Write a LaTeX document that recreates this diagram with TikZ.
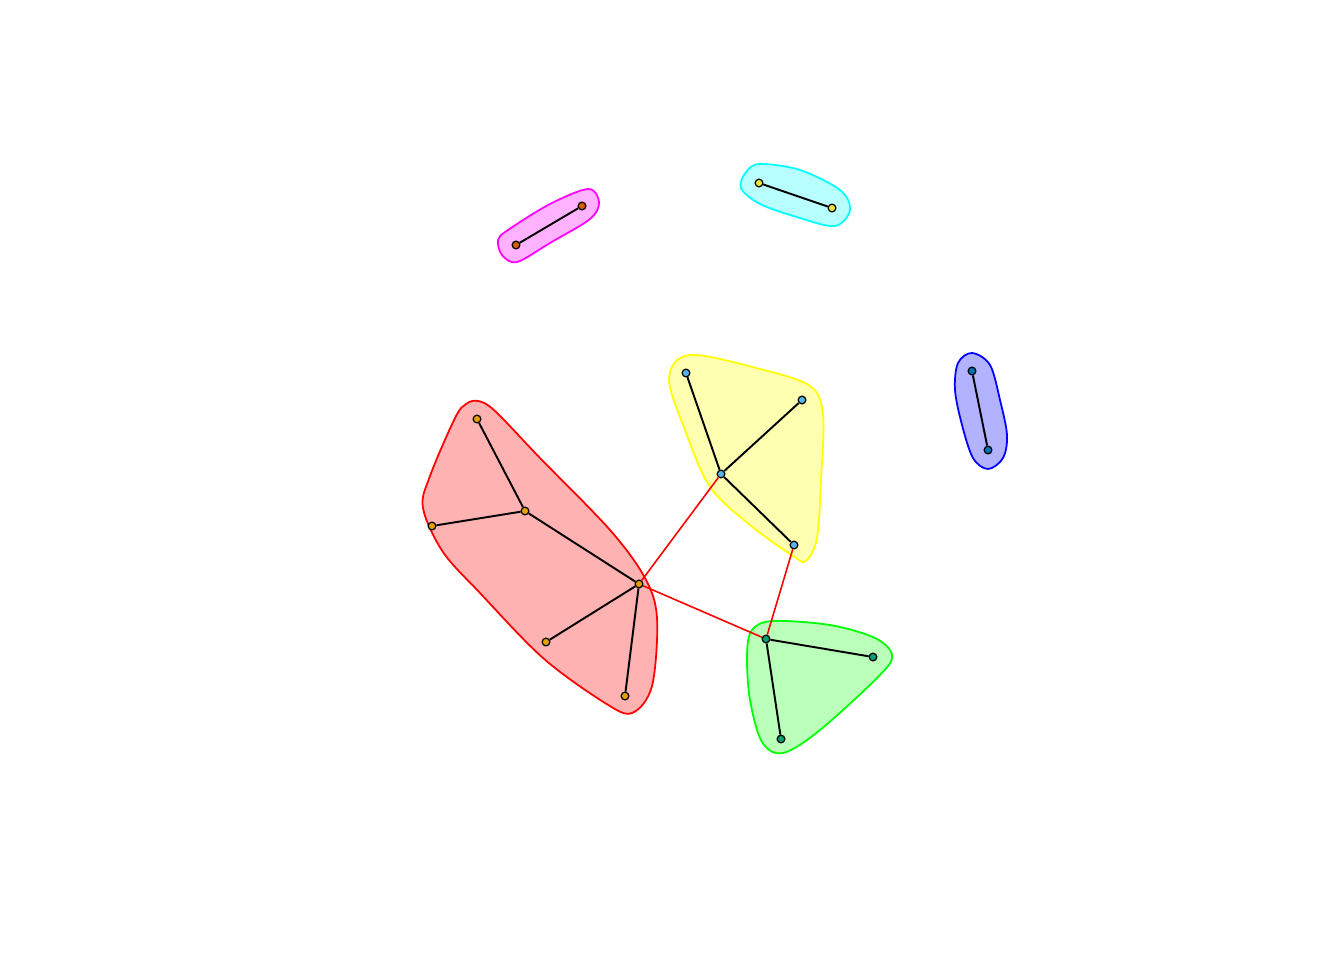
\documentclass[tikz,border=0pt]{standalone}
\usepackage{tikz}
\usetikzlibrary{positioning}
\definecolor{vorange}{HTML}{E69F00}
\definecolor{vsky}{HTML}{56B4E9}
\definecolor{vteal}{HTML}{009E73}
\definecolor{vyellow}{HTML}{F0E442}
\definecolor{vblue}{HTML}{0072B2}
\definecolor{vverm}{HTML}{D55E00}
\definecolor{hred}{rgb}{1,0,0}
\definecolor{hyellow}{rgb}{1,1,0}
\definecolor{hgreen}{rgb}{0,1,0}
\definecolor{hcyan}{rgb}{0,1,1}
\definecolor{hblue}{rgb}{0,0,1}
\definecolor{hmagenta}{rgb}{1,0,1}

\begin{document}
\begin{tikzpicture}[
  x=0.02cm, y=-0.02cm,
  vtx/.style={circle, draw=black, line width=0.7pt, inner sep=0pt, minimum size=4.4pt},
  e/.style={line width=1.1pt, draw=black},
  cross/.style={line width=0.9pt, draw=hred},
]
\useasboundingbox (0,0) rectangle (1344,960);

% community hulls
\filldraw[hred, fill=hred!30, line width=1pt] plot[smooth cycle, tension=0.55] coordinates {
  (478,401) (495,411) (540,458) (610,530) (645,578) (657,618) (652,686) (632,713)
  (605,703) (543,658) (480,593) (443,552) (423,508) (430,476) (455,418) (466,404)};
\filldraw[hyellow, fill=hyellow!30, line width=1pt] plot[smooth cycle, tension=0.55] coordinates {
  (690,355) (760,369) (810,386) (823,415) (821,480) (817,538) (806,561)
  (793,556) (750,525) (710,487) (685,430) (669,378)};
\filldraw[hgreen, fill=hgreen!27, line width=1pt] plot[smooth cycle, tension=0.55] coordinates {
  (773,621) (830,625) (875,638) (892,655) (880,675) (820,730) (783,753)
  (762,742) (750,700) (747,655) (752,630)};
\filldraw[hmagenta, fill=hmagenta!30, line width=1pt] plot[smooth cycle, tension=0.55] coordinates {
  (588,189) (599,202) (590,219) (550,243) (517,262) (502,255) (498,240)
  (508,230) (550,204)};
\filldraw[hcyan, fill=hcyan!28, line width=1pt] plot[smooth cycle, tension=0.55] coordinates {
  (760,164) (800,170) (840,190) (850,210) (835,226) (800,218) (760,204)
  (741,188) (746,172)};
\filldraw[hblue, fill=hblue!30, line width=1pt] plot[smooth cycle, tension=0.55] coordinates {
  (972,353) (990,365) (1000,400) (1007,435) (1003,458) (988,469) (973,458)
  (962,425) (955,390) (958,363)};

% vertices
\node[vtx, fill=vorange] (r1) at (477,419) {};
\node[vtx, fill=vorange] (r2) at (525,511) {};
\node[vtx, fill=vorange] (r3) at (432,526) {};
\node[vtx, fill=vorange] (r4) at (639,584) {};
\node[vtx, fill=vorange] (r5) at (546,642) {};
\node[vtx, fill=vorange] (r6) at (625,696) {};
\node[vtx, fill=vsky] (y1) at (686,373) {};
\node[vtx, fill=vsky] (y2) at (802,400) {};
\node[vtx, fill=vsky] (y3) at (721,474) {};
\node[vtx, fill=vsky] (y4) at (794,545) {};
\node[vtx, fill=vteal] (g1) at (766,639) {};
\node[vtx, fill=vteal] (g2) at (873,657) {};
\node[vtx, fill=vteal] (g3) at (781,739) {};
\node[vtx, fill=vverm] (m1) at (516,245) {};
\node[vtx, fill=vverm] (m2) at (582,206) {};
\node[vtx, fill=vyellow] (c1) at (759,183) {};
\node[vtx, fill=vyellow] (c2) at (832,208) {};
\node[vtx, fill=vblue] (b1) at (972,371) {};
\node[vtx, fill=vblue] (b2) at (988,450) {};

% edges within communities
\foreach \a/\b in {r1/r2, r2/r3, r2/r4, r4/r5, r4/r6, y1/y3, y2/y3, y3/y4,
                   g1/g2, g1/g3, m1/m2, c1/c2, b1/b2}
  \draw[e] (\a) -- (\b);
% edges between communities
\foreach \a/\b in {r4/y3, r4/g1, y4/g1}
  \draw[cross] (\a) -- (\b);
\end{tikzpicture}
\end{document}
